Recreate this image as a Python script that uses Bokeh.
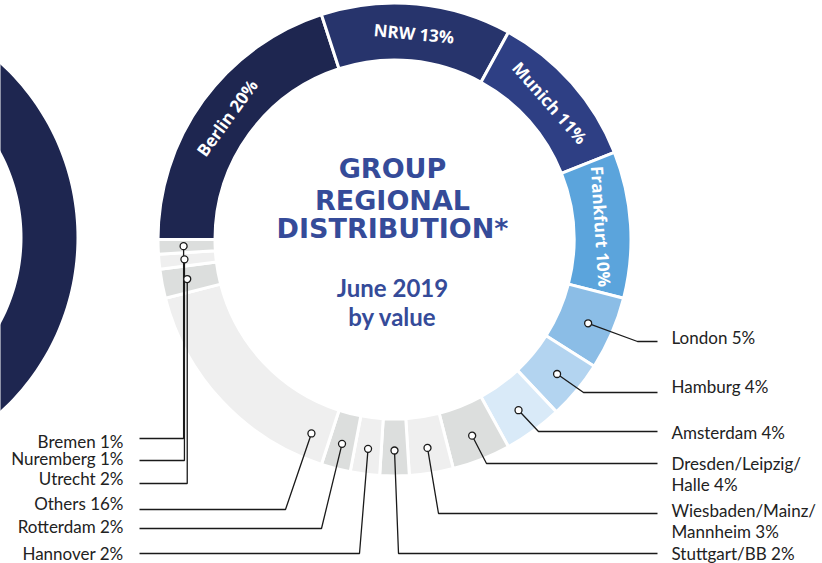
import math
from bokeh.plotting import figure
from bokeh.models import Range1d
from bokeh.embed import file_html
from bokeh.resources import INLINE
from bokeh.core.properties import value

# ---------------- data ----------------
regions = ["Berlin", "NRW", "Munich", "Frankfurt", "London", "Hamburg", "Amsterdam",
           "Dresden/Leipzig/\nHalle", "Wiesbaden/Mainz/\nMannheim", "Stuttgart/BB",
           "Hannover", "Rotterdam", "Others", "Utrecht", "Nuremberg", "Bremen"]
shares = [20, 13, 11, 10, 5, 4, 4, 4, 3, 2, 2, 2, 16, 2, 1, 1]
colors = ["#1e2650", "#27346c", "#2e3f84", "#5ba4dc", "#8bbde6", "#b3d4f0", "#d9eaf8",
          "#dcdedd", "#efefef", "#dcdedd", "#efefef", "#dcdedd", "#efefef", "#dcdedd",
          "#efefef", "#dcdedd"]
inside_labelled = ["Berlin", "NRW", "Munich", "Frankfurt"]
title_lines = ["GROUP", "REGIONAL", "DISTRIBUTION*"]
subtitle_lines = ["June 2019", "by value"]

# ---------------- layout ----------------
W, H = 822, 563
CX, CY = 394, -239          # data y = -pixel y
R_OUT, R_IN = 236.5, 179.5
R_TXT, R_ANCH = 207, 211

# callout layout: side, label y (px), line y (px), elbow x (None = vertical), anchor fraction
callouts = {
    "London": ("r", 337, 341, 637, 0.5),
    "Hamburg": ("r", 386, 392, 583, 0.5),
    "Amsterdam": ("r", 432, 431, 538, 0.5),
    "Dresden/Leipzig/\nHalle": ("r", 463, 463, 486, 0.5),
    "Wiesbaden/Mainz/\nMannheim": ("r", 510, 513, 438, 0.5),
    "Stuttgart/BB": ("r", 553, 553, 398, 0.5),
    "Hannover": ("l", 553, 553, 359, 0.5),
    "Rotterdam": ("l", 526, 528, 321, 0.5),
    "Others": ("l", 503, 509, 285, 0.09),
    "Utrecht": ("l", 478, 483, None, 0.5),
    "Nuremberg": ("l", 458, 460, None, 0.5),
    "Bremen": ("l", 441, 438, None, 0.5),
}
RIGHT_LINE_END, RIGHT_TEXT_X = 657, 671
LEFT_LINE_END, LEFT_TEXT_X = 139, 123
LINE_GAP = 20.5

p = figure(width=W, height=H, x_range=Range1d(0, W), y_range=Range1d(-H, 0),
           output_backend="svg", toolbar_location=None, min_border=0,
           x_axis_type=None, y_axis_type=None, outline_line_color=None,
           background_fill_color="white", border_fill_color="white")
p.grid.visible = False

# partial neighbouring ring on the far left (only its right half is visible)
LCX, LCY = -159, -237
n = 120
outer = [(-1.5 + 3.0 * i / n) for i in range(n + 1)]
ring_x = [LCX + (R_OUT - 1.5) * math.cos(a) for a in outer] + \
         [LCX + (R_IN + 1.5) * math.cos(a) for a in reversed(outer)]
ring_y = [LCY + (R_OUT - 1.5) * math.sin(a) for a in outer] + \
         [LCY + (R_IN + 1.5) * math.sin(a) for a in reversed(outer)]
p.patch(x=ring_x, y=ring_y, fill_color="#1e2650", line_color=None)

# donut segments, clockwise from 9 o'clock
total = float(sum(shares))
starts, ends, cum = [], [], 0.0
for s in shares:
    a0 = math.pi - 2 * math.pi * cum / total
    cum += s
    a1 = math.pi - 2 * math.pi * cum / total
    starts.append(a1)
    ends.append(a0)

p.annular_wedge(x=[CX] * len(shares), y=[CY] * len(shares), inner_radius=R_IN,
                outer_radius=R_OUT, start_angle=starts, end_angle=ends,
                fill_color=colors, line_color="white", line_width=3)

# inside labels
tx, ty, tt, ta = [], [], [], []
for name, s, a_lo, a_hi in zip(regions, shares, starts, ends):
    if name in inside_labelled:
        mid = (a_lo + a_hi) / 2
        tx.append(CX + R_TXT * math.cos(mid))
        ty.append(CY + R_TXT * math.sin(mid))
        tt.append(f"{name} {s}%")
        ta.append(mid - math.pi / 2)
p.text(x=tx, y=ty, text=tt, angle=ta, text_color="white", text_font=value("Open Sans"),
       text_font_style="bold", text_font_size="17px", text_align="center",
       text_baseline="middle")

# callouts
cx_, cy_, lxs, lys = [], [], [], []
rt_x, rt_y, rt_t = [], [], []
lt_x, lt_y, lt_t = [], [], []
for name, s, a_lo, a_hi in zip(regions, shares, starts, ends):
    if name not in callouts:
        continue
    side, ly, liney, elbow, frac = callouts[name]
    ang = a_hi - frac * (a_hi - a_lo)
    ax = CX + R_ANCH * math.cos(ang)
    ay = CY + R_ANCH * math.sin(ang)
    cx_.append(ax)
    cy_.append(ay)
    ex = ax if elbow is None else elbow
    end = RIGHT_LINE_END if side == "r" else LEFT_LINE_END
    lxs.append([ax, ex, end])
    lys.append([ay, -liney, -liney])
    lines = f"{name} {s}%".split("\n")
    for i, line in enumerate(lines):
        if side == "r":
            rt_x.append(RIGHT_TEXT_X); rt_y.append(-(ly + i * LINE_GAP)); rt_t.append(line)
        else:
            lt_x.append(LEFT_TEXT_X); lt_y.append(-(ly + i * LINE_GAP)); lt_t.append(line)

p.multi_line(xs=lxs, ys=lys, line_color="#1a1a1a", line_width=1.3)
p.scatter(x=cx_, y=cy_, marker="circle", size=7, fill_color="white",
          line_color="#1a1a1a", line_width=1.3)
p.text(x=rt_x, y=rt_y, text=rt_t, text_font=value("Lato"),
       text_font_size="17px", text_color="#222222", text_align="left",
       text_baseline="middle")
p.text(x=lt_x, y=lt_y, text=lt_t, text_font=value("Lato"),
       text_font_size="17px", text_color="#222222", text_align="right",
       text_baseline="middle")

# centre titles
title_y = [168, 200, 228]
p.text(x=[CX - 2] * 3, y=[-y for y in title_y], text=title_lines,
       text_font=value("DejaVu Sans"), text_font_style="bold", text_font_size="27px",
       text_color="#354b99", text_align="center", text_baseline="middle")
sub_y = [287, 316]
p.text(x=[CX - 2] * 2, y=[-y for y in sub_y], text=subtitle_lines,
       text_font=value("Lato"), text_font_style="bold", text_font_size="24px",
       text_color="#354b99", text_align="center", text_baseline="middle")

open("out.html", "w").write(file_html(p, INLINE))
